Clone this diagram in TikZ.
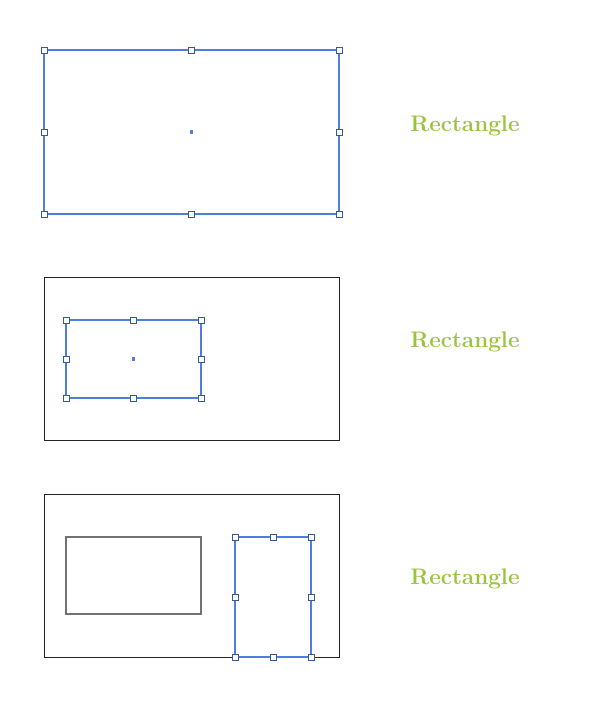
\documentclass[tikz,border=0pt]{standalone}
\definecolor{selblue}{RGB}{79,125,226}
\definecolor{labelgreen}{RGB}{155,196,60}
\tikzset{
  selbox/.style={draw=selblue,line width=1.4pt},
  handle/.style={draw=selblue!70!black,fill=white,line width=0.7pt,minimum size=6pt,inner sep=0pt,rectangle},
  centerdot/.style={fill=selblue,minimum size=3.5pt,inner sep=0pt,rectangle},
  framebox/.style={draw=black!85,line width=0.9pt},
  shapelabel/.style={text=labelgreen,font=\fontsize{22.5}{27}\selectfont\bfseries}
}
\begin{document}
\begin{tikzpicture}[x=1pt,y=-1pt]
\useasboundingbox (0,0) rectangle (600,706);

% first: selected rectangle
\draw[selbox] (44,50) rectangle (339,214);
\foreach \x/\y in {44/50,191.5/50,339/50,44/132,339/132,44/214,191.5/214,339/214}
  \node[handle] at (\x,\y) {};
\node[centerdot] at (191.5,132) {};
\node[shapelabel] (lab1) at (465,126) {Rectangle};

% second: frame with smaller selected rectangle
\draw[framebox] (44,277) rectangle (339,440);
\draw[selbox] (66,320) rectangle (201,398);
\foreach \x/\y in {66/320,133.5/320,201/320,66/359,201/359,66/398,133.5/398,201/398}
  \node[handle] at (\x,\y) {};
\node[centerdot] at (133.5,359) {};
\node[shapelabel] (lab2) at (465,342) {Rectangle};

% third: two rectangles, the new one selected
\draw[framebox] (44,494) rectangle (339,657);
\draw[draw=black!55,line width=1.2pt] (66,537) rectangle (201,614);
\draw[selbox] (235,537) rectangle (311,657);
\foreach \x/\y in {235/537,273/537,311/537,235/597,311/597,235/657,273/657,311/657}
  \node[handle] at (\x,\y) {};
\node[shapelabel] (lab3) at (465,579) {Rectangle};

\end{tikzpicture}
\end{document}
